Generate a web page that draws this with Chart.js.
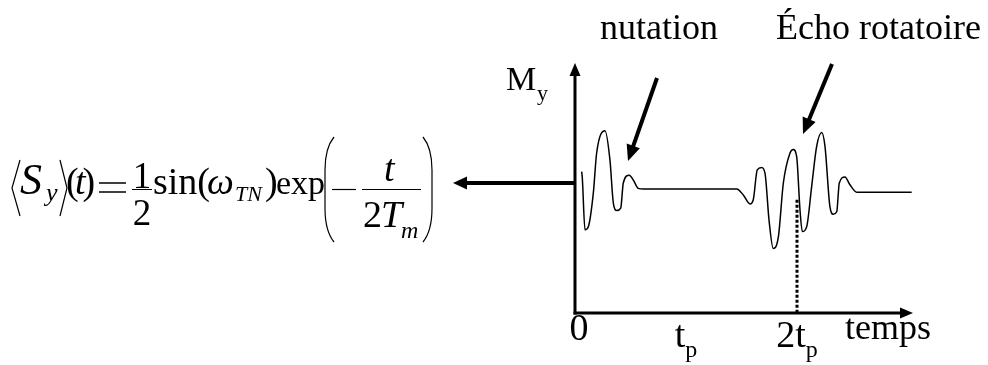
<!DOCTYPE html>
<html>
<head>
<meta charset="utf-8">
<script src="https://cdn.jsdelivr.net/npm/chart.js@4.4.1/dist/chart.umd.min.js"></script>
<style>
	html, body { margin: 0; padding: 0; background: #fff; }
	#wrap { width: 988px; height: 365px; }
</style>
</head>
<body>
<div id="wrap"><canvas id="myChart" width="988" height="365"></canvas></div>
<script>
// temps en unites de t_p, M_y en unites arbitraires
var tValues = [0.060, 0.066, 0.090, 0.120, 0.165, 0.195, 0.270, 0.315, 0.345, 0.376, 0.412, 0.435, 0.489, 0.525, 0.570, 0.615,
	1.457, 1.516, 1.577, 1.606, 1.642, 1.682, 1.712, 1.748, 1.786, 1.832, 1.877, 1.937, 1.967, 1.997, 2.027, 2.048, 2.087,
	2.132, 2.177, 2.223, 2.252, 2.297, 2.327, 2.358, 2.381, 2.432, 2.477, 2.538, 3.033];
var myValues = [0.29, 0.18, -0.68, -0.63, -0.07, 0.60, 0.97, 0.48, -0.23, -0.36, -0.32, 0.10, 0.23, 0.15, 0.01, 0,
	0, -0.10, -0.25, -0.18, 0.32, 0.36, 0.26, -0.52, -0.99, -0.80, 0.10, 0.60, 0.66, 0.54, -0.35, -0.71, -0.63,
	0.04, 0.71, 0.94, 0.71, -0.30, -0.42, -0.38, 0.10, 0.20, 0.07, -0.055, -0.055];

// ligne pointillee a 2t_p
var dotX = [2, 2];
var dotY = [-0.18, -2.067];

// graduations de l'axe du temps
var tickValues = [0, 1, 2];
var tickLabels = ["0", "t", "2t"];
var tickSubs = ["", "p", "p"];

var xMin = 0, xMax = 3.045;
var yMin = -2.067, yMax = 2.033;

var SERIF = "'Liberation Serif', 'Times New Roman', serif";

function pts(xs, ys) {
	var out = [];
	for (var i = 0; i < xs.length; i++) out.push({x: xs[i], y: ys[i]});
	return out;
}

function fleche(ctx, x1, y1, x2, y2, lw, hl, hw) {
	var a = Math.atan2(y2 - y1, x2 - x1);
	var bx = x2 - hl * Math.cos(a), by = y2 - hl * Math.sin(a);
	ctx.lineWidth = lw;
	ctx.beginPath();
	ctx.moveTo(x1, y1);
	ctx.lineTo(bx + 1 * Math.cos(a), by + 1 * Math.sin(a));
	ctx.stroke();
	ctx.beginPath();
	ctx.moveTo(x2, y2);
	ctx.lineTo(bx + hw / 2 * Math.sin(a), by - hw / 2 * Math.cos(a));
	ctx.lineTo(bx - hw / 2 * Math.sin(a), by + hw / 2 * Math.cos(a));
	ctx.closePath();
	ctx.fill();
}

function txt(ctx, s, x, y, size, italic) {
	ctx.font = (italic ? "italic " : "") + size + "px " + SERIF;
	ctx.fillText(s, x, y);
	return ctx.measureText(s).width;
}

var decor = {
	id: "decor",
	afterDraw: function (chart) {
		var ctx = chart.ctx;
		var xs = chart.scales.x, ys = chart.scales.y;
		var x0 = xs.getPixelForValue(0);
		var yb = ys.getPixelForValue(yMin);
		var yt = ys.getPixelForValue(yMax);
		var xe = xs.getPixelForValue(xMax);
		ctx.save();
		ctx.strokeStyle = "#000";
		ctx.fillStyle = "#000";
		ctx.textBaseline = "alphabetic";
		ctx.lineCap = "butt";

		// axes
		fleche(ctx, x0, yb + 1.5, x0, yt - 4, 3, 13, 11);
		fleche(ctx, x0 - 1.5, yb, xe, yb, 3, 13, 11);
		ctx.lineWidth = 2;
		ctx.beginPath(); ctx.moveTo(x0 - 5, 184); ctx.lineTo(x0, 184); ctx.stroke();

		// fleches nutation / echo
		fleche(ctx, 657, 78, 628, 161, 4, 16, 14);
		fleche(ctx, 832, 64, 803, 134, 4, 16, 14);
		// fleche vers la formule
		fleche(ctx, x0, 183, 453, 183, 4, 14, 13);

		// titres
		txt(ctx, "nutation", 600, 39, 36, false);
		txt(ctx, "Écho rotatoire", 776, 39, 36, false);

		// M_y
		txt(ctx, "M", 506, 90, 34, false);
		txt(ctx, "y", 537, 100, 22, false);

		// graduations
		for (var i = 0; i < tickValues.length; i++) {
			var px = xs.getPixelForValue(tickValues[i]);
			ctx.font = "38px " + SERIF;
			var w1 = ctx.measureText(tickLabels[i]).width;
			ctx.font = "24px " + SERIF;
			var w2 = ctx.measureText(tickSubs[i]).width;
			var sx = px - (w1 + w2) / 2 + (i == 0 ? 4 : 0);
			var base = (i == 0) ? 340 : 347;
			txt(ctx, tickLabels[i], sx, base, 38, false);
			txt(ctx, tickSubs[i], sx + w1, base + 10, 24, false);
		}
		txt(ctx, "temps", 845, 339, 36, false);

		// formule
		ctx.lineWidth = 1.2;
		ctx.beginPath(); ctx.moveTo(20, 160); ctx.lineTo(12, 188); ctx.lineTo(20, 216); ctx.stroke();
		ctx.beginPath(); ctx.moveTo(60, 160); ctx.lineTo(67, 188); ctx.lineTo(60, 216); ctx.stroke();
		txt(ctx, "S", 20, 194, 44, true);
		txt(ctx, "y", 46, 201, 26, true);
		txt(ctx, "(", 66, 194, 38, false);
		txt(ctx, "t", 75, 194, 38, true);
		txt(ctx, ")", 82.5, 194, 38, false);
		ctx.lineWidth = 1.6;
		ctx.beginPath(); ctx.moveTo(99, 183); ctx.lineTo(126, 183); ctx.moveTo(99, 192); ctx.lineTo(126, 192); ctx.stroke();
		ctx.textAlign = "center";
		txt(ctx, "1", 142, 188, 37, false);
		txt(ctx, "2", 142, 225, 37, false);
		ctx.textAlign = "left";
		ctx.lineWidth = 1;
		ctx.beginPath(); ctx.moveTo(132, 189.5); ctx.lineTo(152, 189.5); ctx.stroke();
		txt(ctx, "sin(", 153, 194, 38, false);
		txt(ctx, "ω", 207, 194, 38, true);
		txt(ctx, "TN", 235, 201, 22, true);
		txt(ctx, ")", 265, 194, 38, false);
		txt(ctx, "exp", 276, 194, 34, false);
		// grandes parentheses
		ctx.lineWidth = 1.2;
		ctx.beginPath();
		ctx.moveTo(334, 137); ctx.quadraticCurveTo(325, 148, 325, 170);
		ctx.lineTo(325, 208); ctx.quadraticCurveTo(325, 231, 334, 242);
		ctx.stroke();
		ctx.beginPath();
		ctx.moveTo(423, 137); ctx.quadraticCurveTo(432, 148, 432, 170);
		ctx.lineTo(432, 208); ctx.quadraticCurveTo(432, 231, 423, 242);
		ctx.stroke();
		ctx.beginPath(); ctx.moveTo(332, 189.5); ctx.lineTo(356, 189.5); ctx.stroke();
		ctx.lineWidth = 1;
		ctx.beginPath(); ctx.moveTo(362, 189.5); ctx.lineTo(421, 189.5); ctx.stroke();
		txt(ctx, "t", 384, 181, 38, true);
		txt(ctx, "2", 363, 227, 38, false);
		txt(ctx, "T", 381, 227, 38, true);
		txt(ctx, "m", 401, 238, 24, true);
		ctx.restore();
	}
};

var ctx = document.getElementById("myChart").getContext("2d");
var chart = new Chart(ctx, {
	type: "line",
	data: {
		datasets: [{
			data: pts(tValues, myValues),
			borderColor: "#000",
			borderWidth: 1.5,
			pointRadius: 0,
			fill: false,
			cubicInterpolationMode: "monotone",
			clip: false
		}, {
			data: pts(dotX, dotY),
			borderColor: "#000",
			borderWidth: 3,
			borderDash: [3, 2],
			pointRadius: 0,
			fill: false,
			clip: false
		}]
	},
	options: {
		responsive: false,
		animation: false,
		devicePixelRatio: 1,
		layout: { padding: { left: 575, right: 75, top: 67, bottom: 52 } },
		plugins: { legend: { display: false }, tooltip: { enabled: false } },
		scales: {
			x: { type: "linear", min: xMin, max: xMax, display: false },
			y: { min: yMin, max: yMax, display: false }
		}
	},
	plugins: [decor]
});
</script>
</body>
</html>
